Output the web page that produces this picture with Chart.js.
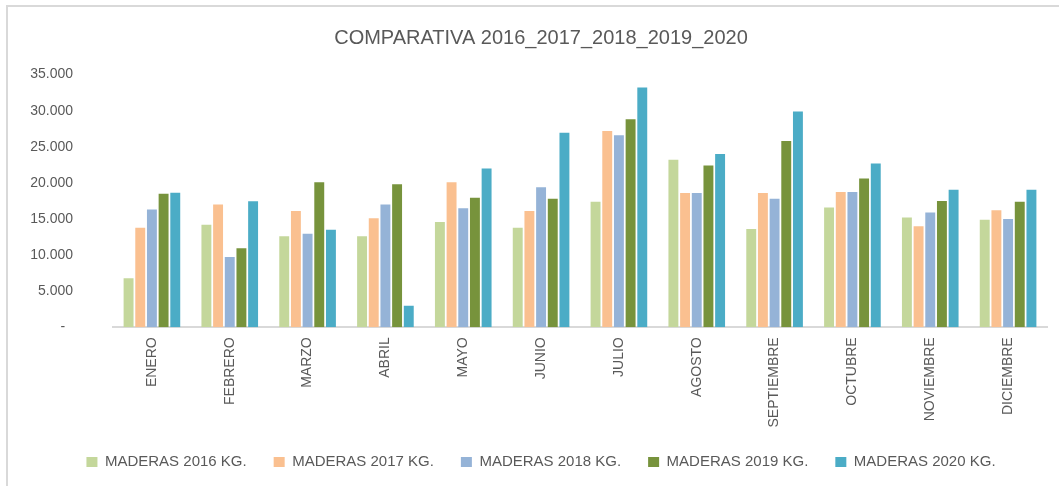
<!DOCTYPE html>
<html>
<head>
<meta charset="utf-8">
<script src="https://cdn.jsdelivr.net/npm/chart.js@4/dist/chart.umd.min.js"></script>
<style>
  html, body { margin: 0; padding: 0; background: #ffffff; overflow: hidden; }
  #wrap { position: relative; width: 1059px; height: 486px; }
</style>
</head>
<body>
<div id="wrap"><canvas id="c" width="1059" height="486"></canvas></div>
<script>
const categories = ["ENERO", "FEBRERO", "MARZO", "ABRIL", "MAYO", "JUNIO", "JULIO", "AGOSTO", "SEPTIEMBRE", "OCTUBRE", "NOVIEMBRE", "DICIEMBRE"];
const seriesNames = ["MADERAS 2016 KG.", "MADERAS 2017 KG.", "MADERAS 2018 KG.", "MADERAS 2019 KG.", "MADERAS 2020 KG."];
const maderas2016 = [6800, 14200, 12600, 12600, 14600, 13800, 17400, 23200, 13600, 16600, 15200, 14900];
const maderas2017 = [13800, 17000, 16100, 15100, 20100, 16100, 27200, 18600, 18600, 18750, 14000, 16200];
const maderas2018 = [16300, 9750, 12950, 17000, 16500, 19400, 26600, 18600, 17800, 18750, 15900, 15000];
const maderas2019 = [18500, 10950, 20100, 19800, 17950, 17800, 28800, 22400, 25800, 20600, 17500, 17400];
const maderas2020 = [18650, 17450, 13500, 3000, 22000, 26950, 33200, 24000, 29900, 22700, 19050, 19050];
const yTicks = [0, 5000, 10000, 15000, 20000, 25000, 30000, 35000];
const colors = ["#C4D79B", "#FAC090", "#95B3D7", "#77933C", "#4BACC6"];

const seriesValues = [maderas2016, maderas2017, maderas2018, maderas2019, maderas2020];
const TEXT = "#595959";
const FONT = "'Liberation Sans', Arial, sans-serif";

function fmt(v) {
  if (v === 0) return "-  ";
  return String(v).replace(/\B(?=(\d{3})+(?!\d))/g, ".");
}

const frame = {
  id: "frame",
  beforeDraw(chart) {
    const ctx = chart.ctx;
    ctx.save();
    ctx.fillStyle = "#ffffff";
    ctx.fillRect(0, 0, chart.width, chart.height);
    ctx.strokeStyle = "#D9D9D9";
    ctx.lineWidth = 2;
    ctx.beginPath();
    ctx.moveTo(7, chart.height);
    ctx.lineTo(7, 6);
    ctx.lineTo(chart.width, 6);
    ctx.stroke();
    ctx.restore();
  }
};

new Chart(document.getElementById("c"), {
  type: "bar",
  data: {
    labels: categories,
    datasets: seriesNames.map((name, i) => ({
      label: name,
      data: seriesValues[i],
      backgroundColor: colors[i],
      borderWidth: 0,
      categoryPercentage: 0.75,
      barPercentage: 0.85
    }))
  },
  options: {
    responsive: false,
    animation: false,
    events: [],
    layout: { padding: { left: 23, right: 0, top: 0, bottom: 6.5 } },
    plugins: {
      title: {
        display: true,
        text: "COMPARATIVA 2016_2017_2018_2019_2020",
        color: TEXT,
        font: { family: FONT, size: 20, weight: "normal" },
        padding: { top: 26, bottom: 24.6 }
      },
      legend: {
        position: "bottom",
        labels: {
          color: TEXT,
          font: { family: FONT, size: 15 },
          boxWidth: 11,
          boxHeight: 10,
          padding: 27
        }
      },
      tooltip: { enabled: false }
    },
    scales: {
      x: {
        grid: { display: false, drawTicks: false },
        border: { display: true, color: "#D9D9D9", width: 2 },
        ticks: {
          color: TEXT,
          font: { family: FONT, size: 14 },
          minRotation: 90,
          maxRotation: 90,
          padding: 10,
          autoSkip: false
        },
        afterFit(scale) { scale.height = 100.2; }
      },
      y: {
        min: 0,
        max: 35000,
        afterBuildTicks(scale) { scale.ticks = yTicks.map(v => ({ value: v })); },
        grid: { display: false, drawTicks: false },
        border: { display: false },
        ticks: {
          color: TEXT,
          font: { family: FONT, size: 14 },
          padding: 40,
          callback: (v) => fmt(v)
        },
        afterFit(scale) { scale.width = 90; }
      },
      yRight: {
        position: "right",
        min: 0,
        max: 35000,
        grid: { display: false, drawTicks: false },
        border: { display: false },
        ticks: { display: false },
        afterFit(scale) { scale.width = 12; }
      }
    }
  },
  plugins: [frame]
});
</script>
</body>
</html>
